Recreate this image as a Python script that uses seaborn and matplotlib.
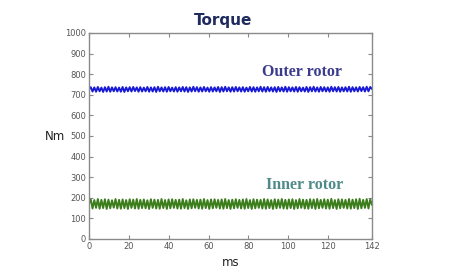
import numpy as np
import pandas as pd
import matplotlib
matplotlib.use("Agg")
import matplotlib.pyplot as plt
import seaborn as sns

# Outer rotor torque samples (Nm) (zigzag ripple ~725 Nm)
outer_rotor = [
    726, 737, 716, 736, 715, 738, 717, 735, 714, 737, 716, 739, 715, 736, 717, 737,
    716, 735, 715, 738, 714, 736, 717, 737, 716, 738, 718, 736, 715, 737, 716, 735,
    717, 738, 715, 736, 716, 737, 714, 739, 717, 736, 716, 737, 715, 738, 717, 735,
    716, 737, 715, 736, 717, 738, 716, 737, 714, 736, 716, 739, 717, 737, 715, 736,
    716, 738, 717, 735, 715, 737, 716, 736, 717, 738, 714, 737, 716, 739, 717, 736,
    715, 737, 716, 738, 717, 736, 716, 737, 715, 735, 717, 738, 716, 737, 715, 736,
    717, 739, 716, 737, 715, 738, 717, 736, 716, 737, 714, 738, 717, 736, 716, 739,
    715, 737, 717, 736, 716, 738, 715, 737, 717, 735, 716, 738, 714, 737, 717, 739,
    716, 736, 715, 738, 717, 737, 716, 736, 715, 739, 717, 737, 716, 738, 715, 736,
    717, 737, 716, 739, 715, 737, 717, 736, 716, 738, 718, 737, 716, 739, 717, 738,
    728,
]

# Inner rotor torque samples (Nm) (zigzag ripple ~168 Nm)
inner_rotor = [
    172, 192, 148, 189, 151, 194, 147, 190, 150, 193, 146, 191, 149, 188, 152, 194,
    148, 190, 147, 192, 150, 189, 146, 193, 151, 191, 148, 194, 147, 190, 150, 192,
    149, 188, 146, 193, 151, 191, 148, 190, 147, 194, 150, 189, 146, 192, 149, 193,
    151, 190, 148, 191, 147, 194, 150, 188, 146, 192, 149, 193, 151, 190, 148, 191,
    147, 194, 150, 189, 146, 192, 149, 193, 151, 190, 148, 192, 147, 194, 150, 189,
    146, 191, 149, 193, 151, 190, 148, 192, 147, 194, 150, 189, 146, 193, 149, 191,
    151, 190, 148, 194, 147, 192, 150, 189, 146, 193, 149, 191, 151, 194, 148, 190,
    147, 192, 150, 193, 146, 189, 149, 194, 151, 191, 148, 190, 147, 193, 150, 192,
    146, 194, 149, 190, 151, 193, 148, 191, 147, 195, 150, 189, 146, 193, 149, 192,
    151, 190, 148, 194, 147, 191, 150, 193, 146, 195, 149, 190, 151, 194, 148, 192,
    165,
]

x_ticks = [0, 20, 40, 60, 80, 100, 120, 142]
y_ticks = [0, 100, 200, 300, 400, 500, 600, 700, 800, 900, 1000]
t_end = 142

t = np.linspace(0, t_end, len(outer_rotor))
df = pd.DataFrame({
    "ms": np.concatenate([t, t]),
    "Nm": outer_rotor + inner_rotor,
    "rotor": ["Outer rotor"] * len(outer_rotor) + ["Inner rotor"] * len(inner_rotor),
})

sns.set_style("white")
plt.rcParams["font.family"] = ["DejaVu Sans"]

fig = plt.figure(figsize=(4.63, 2.75), dpi=100)
ax = fig.add_axes([89 / 463, 36 / 275, 283 / 463, 206 / 275])

sns.lineplot(data=df, x="ms", y="Nm", hue="rotor",
             palette={"Outer rotor": "#1a1ad6", "Inner rotor": "#3c7d1c"},
             linewidth=1.4, legend=False, ax=ax, estimator=None)

ax.set_xlim(0, t_end)
ax.set_ylim(0, 1000)
ax.set_xticks(x_ticks)
ax.set_yticks(y_ticks)
ax.tick_params(direction="in", length=3, width=0.8, colors="#888888",
               labelcolor="#555555", labelsize=6, top=True, right=True,
               bottom=True, left=True, pad=2)
for s in ax.spines.values():
    s.set_visible(True)
    s.set_color("#8a8a8a")
    s.set_linewidth(1.0)

ax.set_xlabel("ms", fontsize=8.5, color="#222222", labelpad=4)
ax.set_ylabel("Nm", fontsize=8.5, color="#222222", rotation=0, va="center")
ax.yaxis.set_label_coords(-0.12, 0.5)

fig.text(223 / 463, 1 - 21 / 275, "Torque", fontsize=11, fontweight="bold",
         color="#1f2a5e", ha="center", va="center")

ax.text(107, 810, "Outer rotor", fontsize=11.5, fontweight="bold",
        family="Liberation Serif", color="#3b3b8e", ha="center", va="center")
ax.text(108, 262, "Inner rotor", fontsize=11.5, fontweight="bold",
        family="Liberation Serif", color="#4e8a88", ha="center", va="center")

fig.savefig("out.png", dpi=100, facecolor="white")
